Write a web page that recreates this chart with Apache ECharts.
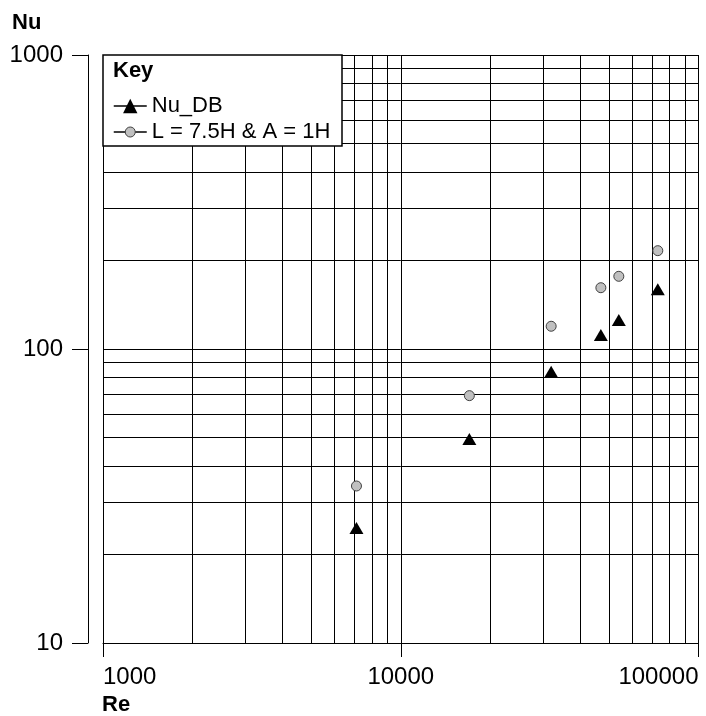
<!DOCTYPE html>
<html>
<head>
<meta charset="utf-8">
<script src="https://cdn.jsdelivr.net/npm/echarts@6/dist/echarts.min.js"></script>
<style>
html,body{margin:0;padding:0;background:#fff;}
#chart{width:706px;height:716px;}
</style>
</head>
<body>
<div id="chart"></div>
<script>
// ---- data ----
var reValues = [7100, 17000, 32000, 47000, 54000, 73000];
var nuDB     = [24.6, 49.4, 83.7, 111.6, 125.5, 159.6];
var nuCase   = [34.2, 69.4, 119.5, 161.6, 176.7, 216];
var seriesNames = ['Nu_DB', 'L = 7.5H & A = 1H'];
var xGridValues = [1000,2000,3000,4000,5000,6000,7000,8000,9000,10000,20000,30000,40000,50000,60000,70000,80000,90000,100000];
var yGridValues = [10,20,30,40,50,60,70,80,90,100,200,300,400,500,600,700,800,900,1000];

var FONT = 'Liberation Sans, Arial, Helvetica, sans-serif';

function pairs(xs, ys){ return xs.map(function(x,i){ return [x, ys[i]]; }); }
function plain(v){ return String(Math.round(v)); }

var gridLines = [];
xGridValues.forEach(function(v){ gridLines.push({xAxis: v}); });
yGridValues.forEach(function(v){ gridLines.push({yAxis: v}); });

var chart = echarts.init(document.getElementById('chart'), null, {renderer:'canvas'});
chart.setOption({
  animation: false,
  backgroundColor: '#fff',
  textStyle: {fontFamily: FONT},
  grid: {left: 103, top: 55, width: 595.5, height: 588, containLabel: false},
  xAxis: {
    type: 'log', logBase: 10, min: 1000, max: 100000,
    axisLine: {show: true, lineStyle: {color: '#000', width: 1}},
    axisTick: {show: true, length: 14, inside: false, lineStyle: {color: '#000', width: 1}},
    axisLabel: {show: true, color: '#000', fontSize: 24, fontFamily: FONT, margin: 22,
      formatter: plain,
      alignMinLabel: 'left', alignMaxLabel: 'right', showMinLabel: true, showMaxLabel: true},
    splitLine: {show: false}, minorTick: {show: false}
  },
  yAxis: {
    type: 'log', logBase: 10, min: 10, max: 1000, offset: 15,
    axisLine: {show: true, lineStyle: {color: '#000', width: 1}},
    axisTick: {show: true, length: 16, inside: false, lineStyle: {color: '#000', width: 1}},
    axisLabel: {show: true, color: '#000', fontSize: 24, fontFamily: FONT, margin: 25,
      formatter: plain, showMinLabel: true, showMaxLabel: true},
    splitLine: {show: false}, minorTick: {show: false}
  },
  legend: [
    {
      data: [{name: seriesNames[0], itemStyle: {color: '#000', borderWidth: 0}}],
      left: 113, top: 95, padding: 0, orient: 'vertical', selectedMode: false, z: 20,
      itemWidth: 33, itemHeight: 18,
      lineStyle: {color: '#000', width: 1.5, opacity: 1, type: 'solid'},
      textStyle: {color: '#000', fontSize: 22, fontFamily: FONT}
    },
    {
      data: [{name: seriesNames[1], itemStyle: {color: '#c0c0c0', borderColor: '#404040', borderWidth: 1}}],
      left: 113, top: 121, padding: 0, orient: 'vertical', selectedMode: false, z: 20,
      itemWidth: 33, itemHeight: 12.5,
      lineStyle: {color: '#000', width: 1.5, opacity: 1, type: 'solid'},
      textStyle: {color: '#000', fontSize: 22, fontFamily: FONT}
    }
  ],
  graphic: [
    {type: 'rect', z: 10, shape: {x: 103, y: 55, width: 239, height: 91},
     style: {fill: '#fff', stroke: '#000', lineWidth: 1.5}},
    {type: 'text', z: 21, style: {text: 'Key', x: 113, y: 71, fill: '#000', font: 'bold 22px ' + FONT, verticalAlign: 'middle'}},
    {type: 'text', z: 21, style: {text: 'Nu', x: 12, y: 23, fill: '#000', font: 'bold 22px ' + FONT, verticalAlign: 'middle'}},
    {type: 'text', z: 21, style: {text: 'Re', x: 102, y: 705, fill: '#000', font: 'bold 22px ' + FONT, verticalAlign: 'middle'}}
  ],
  series: [
    {
      name: 'grid', type: 'line', z: 1, silent: true, symbol: 'none',
      data: [[1000, 10]], lineStyle: {width: 0, opacity: 0},
      markLine: {
        silent: true, symbol: ['none', 'none'], label: {show: false},
        lineStyle: {color: '#000', width: 1, type: 'solid'},
        emphasis: {disabled: true},
        data: gridLines
      }
    },
    {
      name: seriesNames[0], type: 'line', z: 5,
      data: pairs(reValues, nuDB),
      symbol: 'triangle', symbolSize: [14, 12], showSymbol: true,
      itemStyle: {color: '#000'},
      lineStyle: {width: 0, opacity: 0}
    },
    {
      name: seriesNames[1], type: 'line', z: 5,
      data: pairs(reValues, nuCase),
      symbol: 'circle', symbolSize: 10, showSymbol: true,
      itemStyle: {color: '#c0c0c0', borderColor: '#404040', borderWidth: 1},
      lineStyle: {width: 0, opacity: 0}
    }
  ]
});
</script>
</body>
</html>
